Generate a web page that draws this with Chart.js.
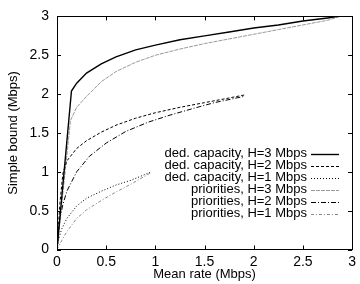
<!DOCTYPE html>
<html><head><meta charset="utf-8">
<script src="https://cdn.jsdelivr.net/npm/chart.js@4/dist/chart.umd.min.js"></script>
<style>html,body{margin:0;padding:0;background:#fff}#wrap{width:360px;height:284px}</style>
</head><body><div id="wrap"><canvas id="c" width="360" height="284"></canvas></div>
<script>
const seriesNames = ["ded. capacity, H=3 Mbps","ded. capacity, H=2 Mbps","ded. capacity, H=1 Mbps","priorities, H=3 Mbps","priorities, H=2 Mbps","priorities, H=1 Mbps"];
const dedX3 = [0, 0.147, 0.2, 0.3, 0.45, 0.6, 0.8, 1.0, 1.25, 1.5, 1.75, 2.0, 2.25, 2.5, 2.75, 2.86];
const dedY3 = [0, 2.04, 2.14, 2.27, 2.39, 2.48, 2.57, 2.63, 2.70, 2.75, 2.80, 2.85, 2.89, 2.94, 2.98, 3.0];
const dedX2 = [0, 0.03, 0.06, 0.1, 0.2, 0.3, 0.45, 0.6, 0.8, 1.0, 1.25, 1.5, 1.75, 1.91];
const dedY2 = [0, 0.60, 0.98, 1.14, 1.30, 1.40, 1.51, 1.60, 1.69, 1.76, 1.83, 1.89, 1.95, 1.99];
const dedX1 = [0, 0.02, 0.05, 0.1, 0.2, 0.3, 0.45, 0.6, 0.75, 0.95];
const dedY1 = [0, 0.15, 0.27, 0.40, 0.56, 0.66, 0.75, 0.83, 0.89, 0.995];
const prioX3 = [0, 0.137, 0.2, 0.3, 0.45, 0.6, 0.8, 1.0, 1.25, 1.5, 1.75, 2.0, 2.25, 2.5, 2.75, 2.88];
const prioY3 = [0, 1.66, 1.83, 1.97, 2.16, 2.29, 2.41, 2.50, 2.58, 2.65, 2.71, 2.77, 2.83, 2.89, 2.95, 3.0];
const prioX2 = [0, 0.03, 0.06, 0.1, 0.2, 0.33, 0.5, 0.7, 0.93, 1.15, 1.37, 1.6, 1.9];
const prioY2 = [0, 0.40, 0.58, 0.75, 1.0, 1.20, 1.37, 1.52, 1.64, 1.73, 1.81, 1.89, 1.97];
const prioX1 = [0, 0.05, 0.1, 0.2, 0.3, 0.45, 0.6, 0.75, 0.95];
const prioY1 = [0, 0.12, 0.23, 0.40, 0.51, 0.63, 0.74, 0.84, 0.985];
const xTicks = [0, 0.5, 1, 1.5, 2, 2.5, 3];
const yTicks = [0, 0.5, 1, 1.5, 2, 2.5, 3];

const pts = (xs, ys) => xs.map((x, i) => ({x, y: ys[i]}));
const styles = [
  {c:'#000', w:1.4, d:[]},
  {c:'#000', w:1, d:[3,2]},
  {c:'#000', w:1, d:[1,2]},
  {c:'#999', w:1, d:[4,1]},
  {c:'#000', w:1, d:[5,2,1,2]},
  {c:'#888', w:1, d:[3,2,1,2]}
];
const allData = [pts(dedX3,dedY3), pts(dedX2,dedY2), pts(dedX1,dedY1), pts(prioX3,prioY3), pts(prioX2,prioY2), pts(prioX1,prioY1)];
const datasets = allData.map((d, i) => ({
  label: seriesNames[i], data: d, showLine: true, pointRadius: 0,
  borderColor: styles[i].c, borderWidth: styles[i].w, borderDash: styles[i].d,
  fill: false, tension: 0
}));
const FONT = "'Liberation Sans', Arial, sans-serif";
const FS = 13;
const TFS = 14;

const framePlugin = {
  id: 'frame',
  afterDraw(chart) {
    const {ctx, chartArea: a, scales: {x, y}} = chart;
    ctx.save();
    ctx.strokeStyle = '#000'; ctx.lineWidth = 1; ctx.setLineDash([]);
    ctx.strokeRect(Math.round(a.left)+0.5, Math.round(a.top)+0.5, Math.round(a.right-a.left), Math.round(a.bottom-a.top));
    const L = 4;
    ctx.beginPath();
    xTicks.forEach(v => { const p = Math.round(x.getPixelForValue(v))+0.5;
      ctx.moveTo(p, a.bottom); ctx.lineTo(p, a.bottom-L); ctx.moveTo(p, a.top); ctx.lineTo(p, a.top+L); });
    yTicks.forEach(v => { const p = Math.round(y.getPixelForValue(v))+0.5;
      ctx.moveTo(a.left, p); ctx.lineTo(a.left+L, p); ctx.moveTo(a.right, p); ctx.lineTo(a.right-L, p); });
    ctx.stroke();
    // legend
    ctx.font = FS + "px " + FONT; ctx.fillStyle = '#000'; ctx.textAlign = 'right'; ctx.textBaseline = 'middle';
    chart.data.datasets.forEach((ds, i) => {
      const yy = 153.5 + 12 * i;
      ctx.fillText(ds.label, 307, yy);
      ctx.beginPath(); ctx.strokeStyle = ds.borderColor; ctx.lineWidth = ds.borderWidth; ctx.setLineDash(ds.borderDash);
      ctx.moveTo(311, Math.round(yy)+0.5); ctx.lineTo(339, Math.round(yy)+0.5); ctx.stroke();
    });
    ctx.restore();
  }
};

new Chart(document.getElementById('c'), {
  type: 'scatter',
  data: { datasets },
  options: {
    responsive: false, animation: false,
    layout: { padding: { left: 0, top: 9, right: 4, bottom: 0 } },
    plugins: { legend: { display: false }, tooltip: { enabled: false } },
    scales: {
      x: { type: 'linear', min: 0, max: 3,
        afterBuildTicks: s => { s.ticks = xTicks.map(v => ({value: v})); },
        afterFit: s => { s.height = 34.5; },
        grid: { display: false, drawTicks: false }, border: { display: false },
        ticks: { color: '#000', padding: 4, font: { family: FONT, size: TFS }, maxRotation: 0, callback: v => String(v) },
        title: { display: true, text: 'Mean rate (Mbps)', color: '#000', font: { family: FONT, size: FS }, padding: { top: 0, bottom: 2 } } },
      y: { type: 'linear', min: 0, max: 3,
        afterBuildTicks: s => { s.ticks = yTicks.map(v => ({value: v})); },
        afterFit: s => { s.width = 57; },
        grid: { display: false, drawTicks: false }, border: { display: false },
        ticks: { color: '#000', padding: 8, font: { family: FONT, size: TFS }, callback: v => String(v) },
        title: { display: true, text: 'Simple bound (Mbps)', color: '#000', font: { family: FONT, size: FS }, padding: { top: 6, bottom: 0 } } }
    }
  },
  plugins: [framePlugin]
});
</script></body></html>
